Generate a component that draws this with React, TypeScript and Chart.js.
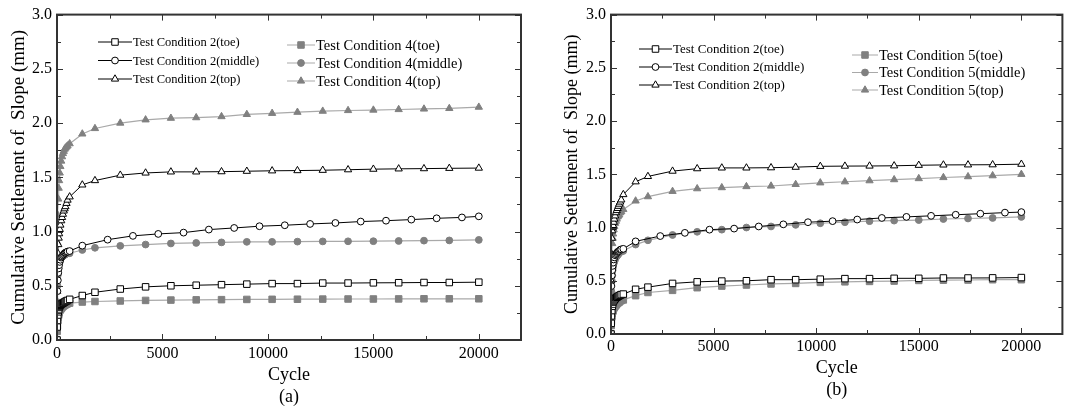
import React, { useEffect, useRef } from 'react';
import { Chart, registerables } from 'chart.js';

Chart.register(...registerables);

// ---------- data ----------
const EARLY_CYCLES = [0, 10, 20, 40, 60, 80, 100, 130, 160, 200, 240, 280, 320, 360, 400, 450, 500];
const LATE_CYCLES = [600, 1200, 1800, 3000, 4200, 5400, 6600, 7800, 9000, 10200, 11400, 12600, 13800, 15000, 16200, 17400, 18600, 20000];
const MID_CYCLES = [600, 1200, 2400, 3600, 4800, 6000, 7200, 8400, 9600, 10800, 12000, 13200, 14400, 15600, 16800, 18000, 19200, 20000];

const X_TICKS = [0, 5000, 10000, 15000, 20000];
const X_MINOR = [2500, 7500, 12500, 17500];
const Y_TICKS = [0, 0.5, 1.0, 1.5, 2.0, 2.5, 3.0];
const Y_MINOR = [0.25, 0.75, 1.25, 1.75, 2.25, 2.75];

const LABELS_A = [
  'Test Condition 2(toe)', 'Test Condition 2(middle)', 'Test Condition 2(top)',
  'Test Condition 4(toe)', 'Test Condition 4(middle)', 'Test Condition 4(top)',
];
const LABELS_B = [
  'Test Condition 2(toe)', 'Test Condition 2(middle)', 'Test Condition 2(top)',
  'Test Condition 5(toe)', 'Test Condition 5(middle)', 'Test Condition 5(top)',
];
const CAPTION_A = '(a)';
const CAPTION_B = '(b)';

// panel (a)
const A_TOE2_EARLY = [0, 0.12, 0.18, 0.23, 0.26, 0.28, 0.30, 0.31, 0.32, 0.33, 0.335, 0.34, 0.345, 0.35, 0.355, 0.36, 0.365];
const A_TOE2_LATE = [0.375, 0.41, 0.44, 0.47, 0.49, 0.50, 0.505, 0.51, 0.515, 0.52, 0.52, 0.525, 0.525, 0.527, 0.528, 0.53, 0.53, 0.533];
const A_MID2_EARLY = [0, 0.30, 0.45, 0.55, 0.62, 0.66, 0.69, 0.72, 0.74, 0.76, 0.77, 0.78, 0.79, 0.80, 0.805, 0.81, 0.815];
const A_MID2_LATE = [0.82, 0.87, 0.925, 0.96, 0.978, 0.99, 1.018, 1.033, 1.049, 1.058, 1.07, 1.079, 1.092, 1.10, 1.11, 1.122, 1.13, 1.14];
const A_TOP2_EARLY = [0, 0.45, 0.65, 0.80, 0.88, 0.94, 0.98, 1.02, 1.06, 1.10, 1.13, 1.16, 1.19, 1.21, 1.23, 1.26, 1.29];
const A_TOP2_LATE = [1.32, 1.43, 1.47, 1.52, 1.54, 1.55, 1.55, 1.552, 1.556, 1.56, 1.562, 1.565, 1.57, 1.575, 1.578, 1.58, 1.583, 1.585];
const A_TOE4_EARLY = [0, 0.08, 0.13, 0.18, 0.21, 0.23, 0.25, 0.27, 0.28, 0.29, 0.30, 0.31, 0.315, 0.32, 0.325, 0.33, 0.335];
const A_TOE4_LATE = [0.34, 0.35, 0.355, 0.36, 0.365, 0.368, 0.37, 0.372, 0.374, 0.375, 0.376, 0.377, 0.378, 0.378, 0.379, 0.38, 0.38, 0.38];
const A_MID4_EARLY = [0, 0.35, 0.50, 0.60, 0.66, 0.70, 0.72, 0.74, 0.75, 0.76, 0.77, 0.775, 0.78, 0.785, 0.79, 0.795, 0.80];
const A_MID4_LATE = [0.80, 0.83, 0.85, 0.868, 0.88, 0.89, 0.895, 0.90, 0.905, 0.905, 0.907, 0.909, 0.91, 0.911, 0.913, 0.916, 0.918, 0.923];
const A_TOP4_EARLY = [0, 0.60, 0.90, 1.15, 1.30, 1.40, 1.47, 1.54, 1.60, 1.65, 1.69, 1.72, 1.74, 1.76, 1.77, 1.78, 1.79];
const A_TOP4_LATE = [1.81, 1.90, 1.95, 2.00, 2.03, 2.045, 2.05, 2.06, 2.08, 2.09, 2.10, 2.11, 2.116, 2.12, 2.125, 2.13, 2.135, 2.147];

// panel (b)
const B_TOE2_EARLY = [0, 0.10, 0.17, 0.22, 0.26, 0.28, 0.30, 0.31, 0.32, 0.33, 0.34, 0.345, 0.35, 0.355, 0.36, 0.365, 0.37];
const B_TOE2_LATE = [0.375, 0.42, 0.44, 0.475, 0.49, 0.497, 0.50, 0.51, 0.51, 0.515, 0.52, 0.52, 0.523, 0.523, 0.526, 0.526, 0.527, 0.53];
const B_MID2_EARLY = [0, 0.30, 0.45, 0.55, 0.60, 0.64, 0.67, 0.70, 0.72, 0.74, 0.75, 0.76, 0.77, 0.775, 0.78, 0.79, 0.795];
const B_MID2_LATE = [0.80, 0.87, 0.92, 0.95, 0.98, 0.99, 1.01, 1.03, 1.05, 1.06, 1.075, 1.09, 1.10, 1.11, 1.12, 1.13, 1.14, 1.145];
const B_TOP2_EARLY = [0, 0.50, 0.75, 0.90, 0.97, 1.00, 1.02, 1.05, 1.08, 1.11, 1.14, 1.16, 1.18, 1.20, 1.22, 1.24, 1.26];
const B_TOP2_LATE = [1.31, 1.43, 1.48, 1.53, 1.553, 1.56, 1.56, 1.562, 1.567, 1.575, 1.577, 1.578, 1.58, 1.585, 1.588, 1.589, 1.59, 1.595];
const B_TOE5_EARLY = [0, 0.08, 0.12, 0.16, 0.19, 0.21, 0.22, 0.24, 0.25, 0.26, 0.27, 0.28, 0.29, 0.295, 0.30, 0.31, 0.315];
const B_TOE5_LATE = [0.32, 0.36, 0.39, 0.41, 0.435, 0.45, 0.46, 0.47, 0.475, 0.485, 0.49, 0.494, 0.497, 0.503, 0.506, 0.507, 0.51, 0.51];
const B_MID5_EARLY = [0, 0.25, 0.40, 0.50, 0.55, 0.60, 0.63, 0.66, 0.68, 0.70, 0.72, 0.73, 0.74, 0.75, 0.76, 0.77, 0.775];
const B_MID5_LATE = [0.78, 0.84, 0.88, 0.93, 0.96, 0.98, 1.00, 1.01, 1.025, 1.04, 1.05, 1.06, 1.065, 1.07, 1.08, 1.085, 1.09, 1.10];
const B_TOP5_EARLY = [0, 0.40, 0.60, 0.75, 0.85, 0.90, 0.94, 0.98, 1.01, 1.04, 1.06, 1.08, 1.10, 1.11, 1.12, 1.14, 1.15];
const B_TOP5_LATE = [1.17, 1.25, 1.29, 1.34, 1.365, 1.375, 1.385, 1.39, 1.405, 1.42, 1.43, 1.44, 1.45, 1.46, 1.47, 1.478, 1.487, 1.50];

// ---------- helpers ----------
const FONT = "'Liberation Serif', 'Times New Roman', serif";

function pts(early: number[], late: number[], lateCycles: number[]) {
  return [
    ...EARLY_CYCLES.map((c, i) => ({ x: c, y: early[i] })),
    ...lateCycles.map((c, i) => ({ x: c, y: late[i] })),
  ];
}

const RADIUS: Record<string, number> = { rect: 4.6, circle: 3.4, triangle: 4.2 };

function openDs(label: string, data: any[], shape: string) {
  return {
    label, data,
    borderColor: '#000', borderWidth: 1,
    pointStyle: shape, pointRadius: RADIUS[shape],
    pointBackgroundColor: '#fff', pointBorderColor: '#000', pointBorderWidth: 1,
    tension: 0,
  };
}
function filledDs(label: string, data: any[], shape: string) {
  return {
    label, data,
    borderColor: '#a9a9a9', borderWidth: 1.2,
    pointStyle: shape, pointRadius: RADIUS[shape],
    pointBackgroundColor: '#808080', pointBorderColor: '#808080', pointBorderWidth: 1,
    tension: 0,
  };
}

function drawMarker(ctx: CanvasRenderingContext2D, shape: string, x: number, y: number, r: number, fill: string, stroke: string) {
  ctx.beginPath();
  if (shape === 'rect') {
    const s = r * Math.SQRT1_2;
    ctx.rect(x - s, y - s, 2 * s, 2 * s);
  } else if (shape === 'circle') {
    ctx.arc(x, y, r, 0, Math.PI * 2);
  } else {
    let a = 0;
    ctx.moveTo(x + Math.sin(a) * r, y - Math.cos(a) * r);
    a += (2 * Math.PI) / 3;
    ctx.lineTo(x + Math.sin(a) * r, y - Math.cos(a) * r);
    a += (2 * Math.PI) / 3;
    ctx.lineTo(x + Math.sin(a) * r, y - Math.cos(a) * r);
  }
  ctx.closePath();
  ctx.fillStyle = fill;
  ctx.fill();
  ctx.lineWidth = 1;
  ctx.strokeStyle = stroke;
  ctx.stroke();
}

const insideLegend = {
  id: 'insideLegend',
  afterDraw(chart: any, _args: any, opts: any) {
    const ctx = chart.ctx as CanvasRenderingContext2D;
    const dss = chart.data.datasets;
    ctx.save();
    for (const g of opts.groups || []) {
      g.items.forEach((di: number, k: number) => {
        const ds = dss[di];
        const y = g.y + k * g.gap;
        ctx.beginPath();
        ctx.moveTo(g.x, y);
        ctx.lineTo(g.x + g.len, y);
        ctx.lineWidth = 1;
        ctx.strokeStyle = ds.borderColor;
        ctx.stroke();
        drawMarker(ctx, ds.pointStyle, g.x + g.len / 2, y, ds.pointRadius, ds.pointBackgroundColor, ds.pointBorderColor);
        ctx.fillStyle = '#000';
        ctx.font = `${g.size}px ${FONT}`;
        ctx.textAlign = 'left';
        ctx.textBaseline = 'middle';
        ctx.fillText(ds.label, g.x + g.len + 1, y + 1);
      });
    }
    ctx.restore();
  },
};

const frameTicks = {
  id: 'frameTicks',
  afterDraw(chart: any) {
    const ctx = chart.ctx as CanvasRenderingContext2D;
    const { left, right, top, bottom } = chart.chartArea;
    const xs = chart.scales.x;
    const ys = chart.scales.y;
    ctx.save();
    ctx.strokeStyle = '#333';
    ctx.lineWidth = 1;
    const tick = (x1: number, y1: number, x2: number, y2: number) => {
      ctx.beginPath();
      ctx.moveTo(x1, y1);
      ctx.lineTo(x2, y2);
      ctx.stroke();
    };
    const xAll = [...X_TICKS.map((v) => [v, 6]), ...X_MINOR.map((v) => [v, 4])];
    for (const [v, len] of xAll) {
      const px = Math.round(xs.getPixelForValue(v)) + 0.5;
      tick(px, bottom, px, bottom - len);
      tick(px, top, px, top + len);
    }
    const yAll = [...Y_TICKS.map((v) => [v, 6]), ...Y_MINOR.map((v) => [v, 4])];
    for (const [v, len] of yAll) {
      const py = Math.round(ys.getPixelForValue(v)) + 0.5;
      tick(left, py, left + len, py);
      tick(right, py, right - len, py);
    }
    ctx.lineWidth = 2;
    ctx.strokeStyle = '#333';
    ctx.strokeRect(left, top, right - left, bottom - top);
    ctx.restore();
  },
};

function makeConfig(p: any) {
  return {
    type: 'line',
    data: { datasets: p.datasets },
    plugins: [insideLegend, frameTicks],
    options: {
      responsive: false,
      animation: false,
      events: [],
      layout: { padding: { left: p.padLeft, right: p.padRight, top: p.padTop, bottom: 0 } },
      plugins: {
        legend: { display: false },
        tooltip: { enabled: false },
        title: { display: false },
        insideLegend: { groups: p.groups },
      },
      scales: {
        x: {
          type: 'linear',
          min: 0,
          max: 22000,
          grid: { display: false, drawTicks: false },
          border: { display: false },
          afterBuildTicks: (s: any) => { s.ticks = X_TICKS.map((v) => ({ value: v })); },
          afterFit: (s: any) => { s.height = p.xHeight; },
          ticks: {
            color: '#000',
            padding: p.xTickPad,
            maxRotation: 0,
            font: { family: FONT, size: 16 },
            callback: (v: any) => String(v),
          },
          title: {
            display: true,
            text: ['Cycle', p.caption],
            color: '#000',
            font: { family: FONT, size: 18, lineHeight: p.xTitleLH },
            padding: { top: 0, bottom: p.xTitlePadBottom },
          },
        },
        y: {
          type: 'linear',
          min: 0,
          max: 3,
          grid: { display: false, drawTicks: false },
          border: { display: false },
          afterBuildTicks: (s: any) => { s.ticks = Y_TICKS.map((v) => ({ value: v })); },
          afterFit: (s: any) => { s.width = p.yWidth; },
          ticks: {
            color: '#000',
            padding: 5,
            font: { family: FONT, size: 16 },
            callback: (v: any) => Number(v).toFixed(1),
          },
          title: {
            display: true,
            text: 'Cumulative Settlement of  Slope (mm)',
            color: '#000',
            font: { family: FONT, size: p.yTitleSize },
            padding: { top: p.yTitlePadTop, bottom: 0 },
          },
        },
      },
    },
  };
}

const datasetsA = [
  openDs(LABELS_A[0], pts(A_TOE2_EARLY, A_TOE2_LATE, LATE_CYCLES), 'rect'),
  openDs(LABELS_A[1], pts(A_MID2_EARLY, A_MID2_LATE, MID_CYCLES), 'circle'),
  openDs(LABELS_A[2], pts(A_TOP2_EARLY, A_TOP2_LATE, LATE_CYCLES), 'triangle'),
  filledDs(LABELS_A[3], pts(A_TOE4_EARLY, A_TOE4_LATE, LATE_CYCLES), 'rect'),
  filledDs(LABELS_A[4], pts(A_MID4_EARLY, A_MID4_LATE, LATE_CYCLES), 'circle'),
  filledDs(LABELS_A[5], pts(A_TOP4_EARLY, A_TOP4_LATE, LATE_CYCLES), 'triangle'),
];
const datasetsB = [
  openDs(LABELS_B[0], pts(B_TOE2_EARLY, B_TOE2_LATE, LATE_CYCLES), 'rect'),
  openDs(LABELS_B[1], pts(B_MID2_EARLY, B_MID2_LATE, MID_CYCLES), 'circle'),
  openDs(LABELS_B[2], pts(B_TOP2_EARLY, B_TOP2_LATE, LATE_CYCLES), 'triangle'),
  filledDs(LABELS_B[3], pts(B_TOE5_EARLY, B_TOE5_LATE, LATE_CYCLES), 'rect'),
  filledDs(LABELS_B[4], pts(B_MID5_EARLY, B_MID5_LATE, LATE_CYCLES), 'circle'),
  filledDs(LABELS_B[5], pts(B_TOP5_EARLY, B_TOP5_LATE, LATE_CYCLES), 'triangle'),
];

function Panel(props: { width: number; left: number; cfg: any }) {
  const ref = useRef<HTMLCanvasElement>(null);
  useEffect(() => {
    if (!ref.current) return;
    const chart = new Chart(ref.current, props.cfg);
    return () => chart.destroy();
  }, []);
  return (
    <canvas
      ref={ref}
      width={props.width}
      height={412}
      style={{ position: 'absolute', left: props.left, top: 0, width: props.width, height: 412, display: 'block' }}
    />
  );
}

export default function App() {
  const cfgA = makeConfig({
    datasets: datasetsA,
    caption: CAPTION_A,
    padLeft: 0, padRight: 19, padTop: 14,
    yWidth: 57, xHeight: 72,
    xTickPad: 4, xTitleLH: 1.22, xTitlePadBottom: 4,
    yTitleSize: 19, yTitlePadTop: 8,
    groups: [
      { x: 98, y: 42, gap: 18.5, len: 34, size: 12.5, items: [0, 1, 2] },
      { x: 287, y: 45, gap: 18, len: 28, size: 14.5, items: [3, 4, 5] },
    ],
  });
  const cfgB = makeConfig({
    datasets: datasetsB,
    caption: CAPTION_B,
    padLeft: 0, padRight: 1, padTop: 14,
    yWidth: 71, xHeight: 78,
    xTickPad: 3, xTitleLH: 1.2, xTitlePadBottom: 11,
    yTitleSize: 18, yTitlePadTop: 21,
    groups: [
      { x: 99, y: 49, gap: 18, len: 33, size: 13, items: [0, 1, 2] },
      { x: 312, y: 55, gap: 17.5, len: 26, size: 14.5, items: [3, 4, 5] },
    ],
  });
  return (
    <div style={{ position: 'absolute', left: 0, top: 0, width: 1068, height: 412, background: '#fff' }}>
      <Panel width={540} left={0} cfg={cfgA} />
      <Panel width={528} left={540} cfg={cfgB} />
    </div>
  );
}
